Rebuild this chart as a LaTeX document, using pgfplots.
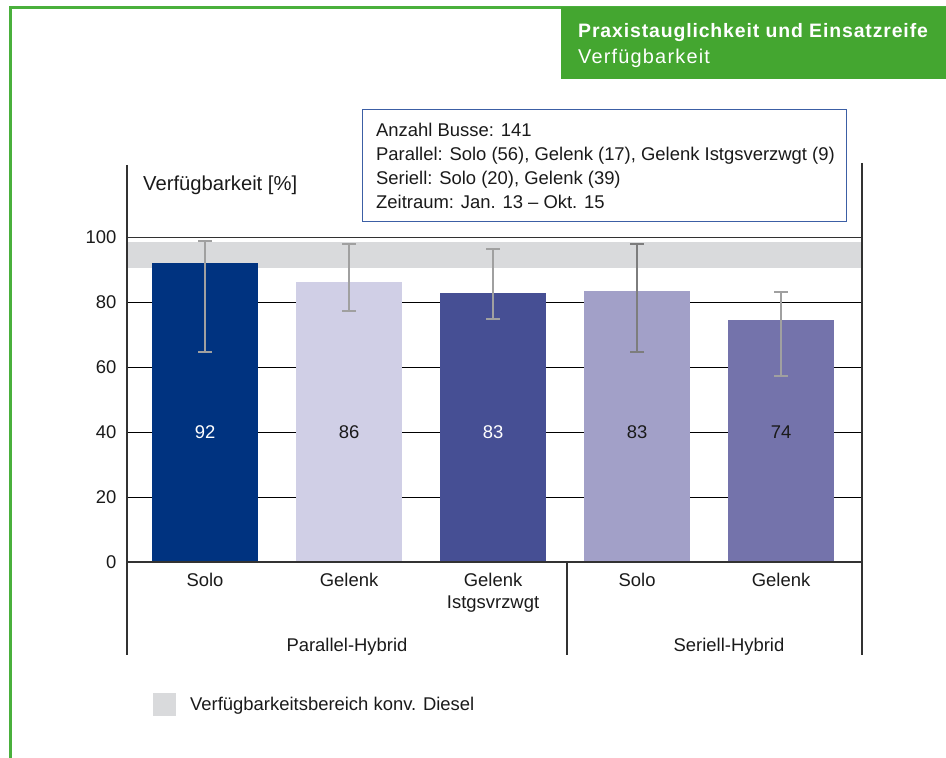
\documentclass[border=0pt]{standalone}
\usepackage{pgfplots}
\pgfplotsset{compat=1.18}
\usepackage{fontspec}
\setmainfont{Liberation Sans}
\definecolor{framegreen}{RGB}{74,176,60}
\definecolor{boxgreen}{RGB}{68,166,48}
\definecolor{boxblue}{RGB}{60,95,165}
\definecolor{bandgray}{RGB}{217,218,220}
\definecolor{errgray}{RGB}{160,160,160}
\definecolor{errdark}{RGB}{125,125,125}
\definecolor{txt}{RGB}{26,26,26}
\definecolor{axgray}{RGB}{50,50,50}
\definecolor{cA}{RGB}{0,51,128}
\definecolor{cB}{RGB}{208,207,230}
\definecolor{cC}{RGB}{70,79,148}
\definecolor{cD}{RGB}{162,160,200}
\definecolor{cE}{RGB}{116,115,171}
\newcommand{\fs}{\fontsize{18.5}{22}\selectfont}
\begin{document}
\begin{tikzpicture}[x=1bp,y=1bp]
\path[use as bounding box] (0,0) rectangle (946,758);
% frame
\draw[framegreen, line width=2.2bp] (10.5,0) -- (10.5,750.5) -- (946,750.5);
\fill[boxgreen] (561,679) rectangle (946,751);
\node[anchor=base west, text=white, inner sep=0pt, font=\fontsize{19.5}{20}\selectfont\bfseries\addfontfeature{LetterSpace=4.5}] at (578,758-37.5) {Praxistauglichkeit und Einsatzreife};
\node[anchor=base west, text=white, inner sep=0pt, font=\fontsize{20}{20}\selectfont\addfontfeature{LetterSpace=6}] at (578,758-64) {Verfügbarkeit};

\begin{axis}[
  at={(127bp,196bp)}, anchor=south west,
  scale only axis, width=735bp, height=397bp,
  xmin=-0.542, xmax=4.562, ymin=0, ymax=122.3,
  axis line style={draw=none},
  ytick={0,20,...,100}, xtick={0,...,4},
  xticklabels={Solo,Gelenk,{Gelenk\\Istgsvrzwgt},Solo,Gelenk},
  major tick length=0pt,
  ymajorgrids, grid style={black, line width=0.8bp},
  extra y ticks={100}, extra y tick labels={},
  extra y tick style={grid style={axgray, line width=1.6bp}},
  tick label style={font=\fs, text=txt},
  yticklabel style={anchor=east, xshift=-7bp},
  xticklabel style={align=center, anchor=north, yshift=-8bp},
  /pgf/number format/assume math mode=true,
  clip=false,
]
\addplot[fill=bandgray, draw=none] coordinates {(-0.542,90.5) (4.562,90.5) (4.562,98.7) (-0.542,98.7)};
\addplot[ybar, bar width=106bp, bar shift=0pt, fill=cA, draw=none,
  error bars/.cd, y dir=both, y explicit,
  error bar style={line width=2bp, errgray},
  error mark options={rotate=90, line width=2bp, mark size=7bp, errgray}]
  coordinates {(0,92.1) += (0,6.7) -= (0,27.3)};
\addplot[ybar, bar width=106bp, bar shift=0pt, fill=cB, draw=none,
  error bars/.cd, y dir=both, y explicit,
  error bar style={line width=2bp, errgray},
  error mark options={rotate=90, line width=2bp, mark size=7bp, errgray}]
  coordinates {(1,86.3) += (0,11.6) -= (0,9.0)};
\addplot[ybar, bar width=106bp, bar shift=0pt, fill=cC, draw=none,
  error bars/.cd, y dir=both, y explicit,
  error bar style={line width=2bp, errgray},
  error mark options={rotate=90, line width=2bp, mark size=7bp, errgray}]
  coordinates {(2,82.9) += (0,13.5) -= (0,8.1)};
\addplot[ybar, bar width=106bp, bar shift=0pt, fill=cD, draw=none,
  error bars/.cd, y dir=both, y explicit,
  error bar style={line width=2bp, errdark},
  error mark options={rotate=90, line width=2bp, mark size=7bp, errdark}]
  coordinates {(3,83.5) += (0,14.4) -= (0,18.7)};
\addplot[ybar, bar width=106bp, bar shift=0pt, fill=cE, draw=none,
  error bars/.cd, y dir=both, y explicit,
  error bar style={line width=2bp, errgray},
  error mark options={rotate=90, line width=2bp, mark size=7bp, errgray}]
  coordinates {(4,74.6) += (0,8.5) -= (0,17.3)};
\addplot[draw=none, mark=none, nodes near coords, point meta=explicit symbolic,
  nodes near coords style={anchor=center, font=\fs, text=white}]
  coordinates {(0,40) [92] (2,40) [83]};
\addplot[draw=none, mark=none, nodes near coords, point meta=explicit symbolic,
  nodes near coords style={anchor=center, font=\fs, text=txt}]
  coordinates {(1,40) [86] (3,40) [83] (4,40) [74]};
\end{axis}

% axis frame lines
\draw[axgray, line width=1.2bp] (127,758-165) -- (127,758-655);
\draw[axgray, line width=1.2bp] (862,758-163) -- (862,758-655);
\draw[axgray, line width=1.2bp] (567,758-562) -- (567,758-655);
\draw[axgray, line width=1.4bp] (127,758-562) -- (862,758-562);

\node[anchor=base west, inner sep=0pt, font=\fontsize{20.3}{22}\selectfont, text=txt] at (143,758-191) {Verfügbarkeit [\%]};
\node[anchor=base, inner sep=0pt, font=\fs, text=txt] at (347,758-652) {Parallel-Hybrid};
\node[anchor=base, inner sep=0pt, font=\fs, text=txt] at (729,758-652) {Seriell-Hybrid};

% info box
\draw[boxblue, line width=1bp, fill=white] (362,758-110) rectangle (846,758-222);
\node[anchor=base west, inner sep=0pt, font=\fs, text=txt] at (376,758-137) {Anzahl Busse: 141};
\node[anchor=base west, inner sep=0pt, font=\fs, text=txt] at (376,758-161) {Parallel: Solo (56), Gelenk (17), Gelenk Istgsverzwgt (9)};
\node[anchor=base west, inner sep=0pt, font=\fs, text=txt] at (376,758-185) {Seriell: Solo (20), Gelenk (39)};
\node[anchor=base west, inner sep=0pt, font=\fs, text=txt] at (376,758-209) {Zeitraum: Jan. 13 – Okt. 15};

% legend
\fill[bandgray] (153,758-693) rectangle (176,758-716);
\node[anchor=base west, inner sep=0pt, font=\fs, text=txt] at (190,758-711) {Verfügbarkeitsbereich konv. Diesel};
\end{tikzpicture}
\end{document}
